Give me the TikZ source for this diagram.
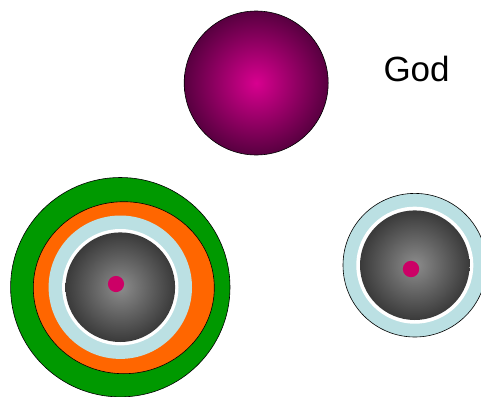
\documentclass[tikz,border=0pt]{standalone}
\usepackage{fontspec}
\setmainfont{Liberation Sans}
\definecolor{ringgreen}{HTML}{009900}
\definecolor{ringorange}{HTML}{FF6600}
\definecolor{ringblue}{HTML}{BBE0E3}
\definecolor{dotred}{HTML}{CC0066}
\definecolor{godin}{HTML}{D8008F}
\definecolor{godout}{HTML}{580040}
\definecolor{corein}{HTML}{8C8C8C}
\definecolor{coreout}{HTML}{3A3A3A}
\begin{document}
\begin{tikzpicture}[x=1pt,y=-1pt,
  outline/.style={draw=black,line width=0.6pt},
  coreshade/.style={inner color=corein,outer color=coreout},
  dotfill/.style={fill=dotred}]
\useasboundingbox (0,0) rectangle (481,396);
% God sphere
\coordinate (godc) at (256.2,83);
\shade[inner color=godin,outer color=godout] (godc) circle (72);
\draw[outline] (godc) circle (72);
\node[font=\fontsize{35}{40}\selectfont,anchor=base west,inner sep=0pt] (god) at (383.3,81.7) {God};
% left target
\coordinate (lc) at (120.3,287.2);
\coordinate (oc) at (123.8,287.7);
\coordinate (ld) at (116,284);
\filldraw[fill=ringgreen,outline] (lc) circle (109.7);
\filldraw[fill=ringorange,outline] (oc) ellipse [x radius=90.5,y radius=86];
\fill[ringblue] (lc) circle (71.7);
\fill[white] (lc) circle (58.2);
\shade[coreshade] (lc) circle (54.8);
\fill[dotfill] (ld) circle (8.1);
% right target
\coordinate (rc) at (414.8,265.2);
\coordinate (rd) at (411,269);
\filldraw[fill=ringblue,outline] (rc) circle (71.8);
\fill[white] (rc) circle (58.5);
\shade[coreshade] (rc) circle (54.8);
\fill[dotfill] (rd) circle (8.2);
\end{tikzpicture}
\end{document}
